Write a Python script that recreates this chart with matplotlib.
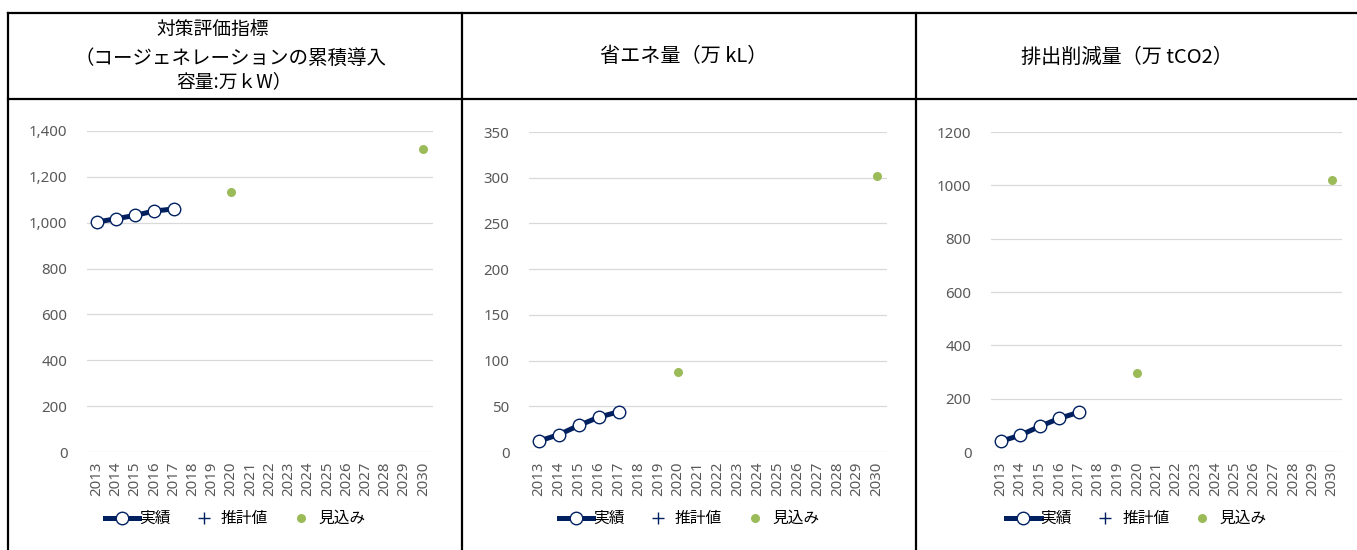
import matplotlib
matplotlib.use("Agg")
import matplotlib.pyplot as plt
from matplotlib.lines import Line2D
from matplotlib.ticker import FuncFormatter
import numpy as np

plt.rcParams['font.family'] = ['Noto Sans', 'Noto Sans CJK JP', 'DejaVu Sans']

# categories
years = ["2013", "2014", "2015", "2016", "2017", "2018", "2019", "2020", "2021",
         "2022", "2023", "2024", "2025", "2026", "2027", "2028", "2029", "2030"]
actual_years = ["2013", "2014", "2015", "2016", "2017"]
outlook_years = ["2020", "2030"]

# panel 1: cumulative cogeneration capacity (万kW)
capacity_actual = [1003, 1017, 1032, 1051, 1060]
capacity_outlook = [1135, 1320]
# panel 2: energy saving (万kL)
energy_actual = [12, 19, 29, 38, 44]
energy_outlook = [87, 302]
# panel 3: emission reduction (万tCO2)
emission_actual = [40, 63, 96, 126, 149]
emission_outlook = [295, 1020]
# estimated values: none reported
estimate = [np.nan] * len(years)

titles = ["対策評価指標", "省エネ量（万 kL）", "排出削減量（万 tCO2）"]
title1_lines = ["（コージェネレーションの累積導入", "容量:万ｋW）"]

NAVY = "#002060"
GREEN = "#9BBB59"
GRID = "#D9D9D9"
TXT = "#595959"

W, H = 1357, 550
fig = plt.figure(figsize=(W / 100, H / 100), dpi=100)


def fx(px):
    return px / W


def fy(py):
    return 1 - py / H


panels = [
    # left, right px, ymax, step, comma, actual, outlook
    (87, 433, 1400, 200, True, capacity_actual, capacity_outlook),
    (529, 887, 350, 50, False, energy_actual, energy_outlook),
    (991, 1342, 1200, 200, False, emission_actual, emission_outlook),
]
cells = [(8, 462), (462, 916), (916, 1357)]

for i, (l, r, ymax, step, comma, act, outl) in enumerate(panels):
    top_px = 131 if i == 0 else 132
    ax = fig.add_axes([fx(l), fy(452), fx(r - l), (452 - top_px) / H])
    ax.plot(years, estimate, linestyle="none", marker="+", color=NAVY,
            markersize=8, markeredgewidth=1.0, label="推計値")
    ax.plot(actual_years, act, color=NAVY, linewidth=3.6, marker="o",
            markersize=9, markerfacecolor="white", markeredgecolor=NAVY,
            markeredgewidth=1.0, label="実績", zorder=3)
    ax.plot(outlook_years, outl, linestyle="none", marker="o", color=GREEN,
            markersize=6.5, markeredgewidth=0, label="見込み", zorder=3)
    ax.set_xlim(-0.5, len(years) - 0.5)
    ax.set_ylim(0, ymax)
    ax.set_yticks(np.arange(0, ymax + 1, step))
    if comma:
        ax.yaxis.set_major_formatter(FuncFormatter(lambda v, p: f"{int(v):,}"))
    ax.grid(axis="y", color=GRID, linewidth=0.9)
    ax.set_axisbelow(True)
    for s in ax.spines.values():
        s.set_visible(False)
    ax.tick_params(axis="both", length=0, colors=TXT, labelsize=10.8)
    ax.tick_params(axis="y", pad=14)
    ax.tick_params(axis="x", pad=7, labelrotation=90)

    h, lab = ax.get_legend_handles_labels()
    order = [1, 0, 2]
    cx = (cells[i][0] + cells[i][1]) / 2
    fig.legend([h[k] for k in order], [lab[k] for k in order],
               loc="center", bbox_to_anchor=(fx(cx), fy(519)), ncol=3,
               frameon=False, fontsize=11.3, handlelength=2.2,
               handletextpad=0.0, columnspacing=1.0)

# table borders
lw = 1.6
for py in (13, 99):
    fig.add_artist(Line2D([fx(8), 1], [fy(py), fy(py)], color="black", lw=lw))
for px in (8, 462, 916):
    fig.add_artist(Line2D([fx(px), fx(px)], [fy(13), 0], color="black", lw=lw))

# header texts
hfont = ['Noto Sans CJK JP', 'DejaVu Sans']
fig.text(fx(213), fy(29), titles[0], ha="center", va="center",
         fontsize=13.5, family=hfont)
fig.text(fx(230), fy(58), title1_lines[0], ha="center", va="center",
         fontsize=14, family=hfont)
fig.text(fx(234), fy(82), title1_lines[1], ha="center", va="center",
         fontsize=13.5, family=hfont)
fig.text(fx(684), fy(57), titles[1], ha="center", va="center",
         fontsize=14.5, family=hfont)
fig.text(fx(1127), fy(57), titles[2], ha="center", va="center",
         fontsize=14.5, family=hfont)

fig.savefig("out.png", dpi=100)
